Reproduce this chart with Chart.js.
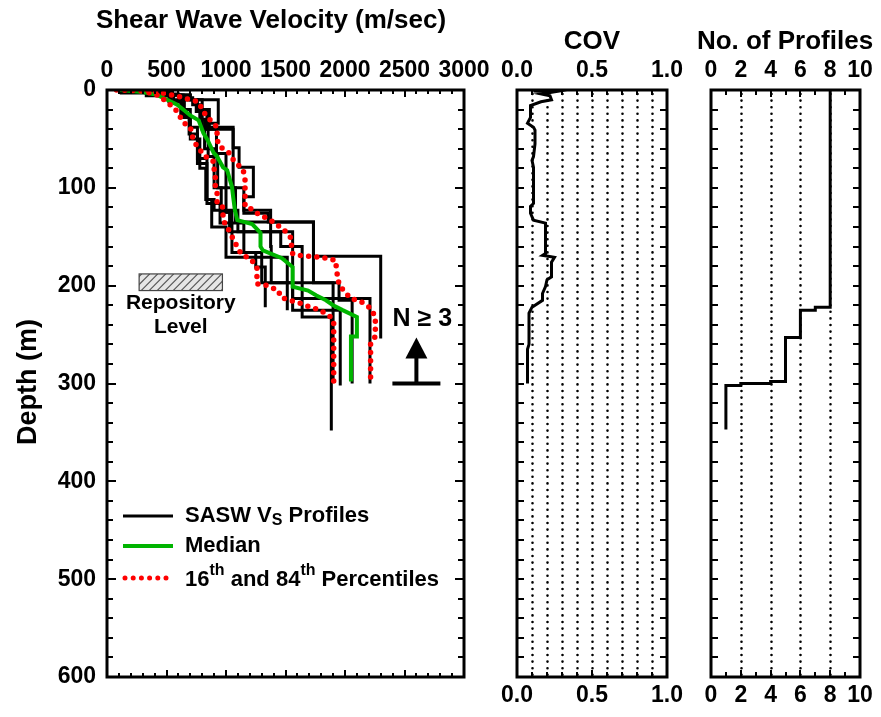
<!DOCTYPE html>
<html>
<head>
<meta charset="utf-8">
<script src="https://cdn.jsdelivr.net/npm/chart.js@4/dist/chart.umd.min.js"></script>
<style>
  html, body { margin: 0; padding: 0; background: #fff; }
  #wrap { position: relative; width: 881px; height: 717px; }
  #wrap canvas { position: absolute; left: 0; top: 0; }
</style>
</head>
<body>
<div id="wrap">
  <canvas id="vsChart" width="881" height="717"></canvas>
  <canvas id="covChart" width="881" height="717"></canvas>
  <canvas id="cntChart" width="881" height="717"></canvas>
</div>
<script>
// ---- SASW shear-wave velocity profiles: layer top depth (m), layer Vs (m/s), bottom depth (m)
const prof1Top = [0, 2, 5, 10, 20, 38, 70, 112, 123, 145, 160, 232];
const prof1Vs  = [150, 380, 560, 650, 700, 760, 840, 900, 1100, 1460, 1640, 1885];
const prof1End = 348;

const prof2Top = [0, 2, 4, 8, 15, 30, 60, 100, 125, 145, 225];
const prof2Vs  = [200, 420, 600, 720, 780, 820, 900, 960, 1030, 1560, 1960];
const prof2End = 302;

const prof3Top = [0, 2, 5, 10, 34, 40, 61, 100, 126, 135, 170];
const prof3Vs  = [250, 500, 700, 935, 840, 1060, 1060, 1150, 1355, 1735, 2300];
const prof3End = 254;

const prof4Top = [0, 2, 5, 10, 20, 38, 59, 79, 109, 123, 160, 197, 213];
const prof4Vs  = [180, 400, 620, 760, 840, 1060, 1110, 1230, 1150, 1375, 1380, 1560, 2210];
const prof4End = 300;

const prof5Top = [0, 3, 6, 12, 25, 45, 75, 116, 136, 166, 197];
const prof5Vs  = [120, 330, 520, 620, 690, 760, 840, 950, 1150, 1300, 1900];
const prof5End = 298;

const prof6Top = [0, 2, 5, 10, 20, 40, 65, 100, 135, 197, 215];
const prof6Vs  = [300, 550, 700, 800, 860, 920, 1000, 1080, 1735, 1950, 2060];
const prof6End = 300;

const prof7Top = [0, 2, 5, 12, 28, 50, 80, 112, 140, 171];
const prof7Vs  = [160, 360, 540, 640, 700, 780, 830, 880, 1000, 1515];
const prof7End = 225;

const prof8Top = [0, 2, 5, 10, 22, 40, 68, 100, 125, 166, 181];
const prof8Vs  = [220, 450, 640, 750, 800, 850, 930, 1000, 1050, 1250, 1330];
const prof8End = 222;

// ---- Statistics of the profiles
const medianDepth = [0, 2, 5, 10, 15, 20, 26, 31, 44, 51, 64, 68, 79, 82, 99, 109, 123, 133, 137, 146, 160, 164, 172, 181, 201, 205, 210, 215, 220, 225, 232, 252, 252, 298];
const medianVs    = [110, 300, 420, 505, 590, 640, 700, 770, 810, 845, 895, 925, 975, 1010, 1050, 1060, 1075, 1095, 1220, 1290, 1290, 1310, 1470, 1560, 1560, 1690, 1760, 1840, 1900, 1980, 2100, 2100, 2050, 2050];

const p16Depth = [0, 1, 5, 12, 22, 33, 38, 51, 58, 68, 72, 89, 99, 105, 116, 120, 133, 140, 157, 167, 174, 181, 198, 200, 205, 212, 215, 218, 222, 225, 232, 238, 298];
const p16Vs    = [80, 300, 420, 505, 590, 640, 700, 725, 760, 825, 890, 910, 910, 925, 925, 975, 975, 1010, 1080, 1125, 1215, 1260, 1260, 1350, 1440, 1460, 1540, 1625, 1710, 1790, 1880, 1905, 1905];

const p84Depth = [0, 4, 7, 10, 12, 26, 38, 51, 58, 65, 71, 82, 92, 119, 122, 126, 135, 146, 150, 167, 169, 171, 174, 194, 201, 205, 213, 216, 223, 232, 252, 259, 298];
const p84Vs    = [340, 505, 615, 700, 766, 830, 925, 925, 950, 1035, 1060, 1145, 1160, 1160, 1220, 1260, 1400, 1515, 1540, 1560, 1600, 1800, 1920, 1940, 1960, 1990, 2045, 2130, 2215, 2255, 2255, 2215, 2215];

// ---- Coefficient of variation with depth
const covDepth = [0, 1, 2, 4, 6, 10, 12, 16, 28, 34, 38, 41, 55, 68, 72, 79, 116, 119, 126, 133, 136, 167, 169, 171, 176, 191, 194, 201, 208, 215, 222, 228, 260, 265, 300];
const covValue = [0.18, 0.11, 0.24, 0.16, 0.22, 0.23, 0.16, 0.09, 0.09, 0.07, 0.11, 0.12, 0.12, 0.11, 0.10, 0.11, 0.11, 0.09, 0.09, 0.11, 0.19, 0.19, 0.17, 0.25, 0.23, 0.23, 0.20, 0.19, 0.17, 0.17, 0.10, 0.08, 0.08, 0.07, 0.07];

// ---- Number of profiles available at each depth (step changes)
const countTop = [0, 222, 225, 253, 298, 300, 302];
const countN   = [8, 7, 6, 5, 4, 2, 1];
const countEnd = 347;

// ---- Axis ticks
const vsTicks    = [0, 500, 1000, 1500, 2000, 2500, 3000];
const depthTicks = [0, 100, 200, 300, 400, 500, 600];
const covTicks   = [0, 0.5, 1.0];
const countTicks = [0, 2, 4, 6, 8, 10];

const FONT = '"Liberation Sans", Arial, Helvetica, sans-serif';
Chart.defaults.font.family = FONT;
Chart.defaults.font.weight = 'bold';
Chart.defaults.color = '#000';

// Turn a layered model into a staircase of points
function stairs(tops, values, end) {
  const pts = [];
  for (let i = 0; i < tops.length; i++) {
    const bot = i + 1 < tops.length ? tops[i + 1] : end;
    pts.push({ x: values[i], y: tops[i] });
    pts.push({ x: values[i], y: bot });
  }
  return pts;
}
function pairs(depths, values) {
  return depths.map((d, i) => ({ x: values[i], y: d }));
}

// Axis boxes with fixed sizes so every plot area lands on the same rows
function fixedSize(size) {
  return scale => { if (scale.isHorizontal()) scale.height = size; else scale.width = size; };
}

function line(ctx, x1, y1, x2, y2) {
  ctx.beginPath(); ctx.moveTo(x1, y1); ctx.lineTo(x2, y2); ctx.stroke();
}

// Frame, inward tick marks on all four sides, and dotted guide lines
function framePlugin(cfg) {
  return {
    id: 'frame',
    beforeDatasetsDraw(chart) {
      if (!cfg.grid) return;
      const { ctx, chartArea: a, scales } = chart;
      ctx.save();
      ctx.strokeStyle = '#000';
      ctx.lineWidth = 2.6;
      ctx.lineCap = 'round';
      ctx.setLineDash([0, 6.6]);
      cfg.grid.forEach(v => {
        const px = Math.round(scales.x.getPixelForValue(v)) + 0.5;
        line(ctx, px, a.top + 4, px, a.bottom);
      });
      ctx.restore();
    },
    afterDraw(chart) {
      const { ctx, chartArea: a, scales } = chart;
      const xs = scales.x, ys = scales.y;
      ctx.save();
      ctx.strokeStyle = '#000';
      ctx.lineWidth = 2;
      const nx = Math.round((xs.max - xs.min) / cfg.xMinor);
      for (let i = 0; i <= nx; i++) {
        const v = xs.min + i * cfg.xMinor;
        const px = Math.round(xs.getPixelForValue(v));
        const major = (i % cfg.xMajorEvery) === 0;
        const len = major ? cfg.xMajorLen : cfg.xMinorLen;
        line(ctx, px, a.top, px, a.top + len);
        line(ctx, px, a.bottom, px, a.bottom - len);
      }
      const ny = Math.round((ys.max - ys.min) / cfg.yMinor);
      for (let i = 0; i <= ny; i++) {
        const v = ys.min + i * cfg.yMinor;
        const py = Math.round(ys.getPixelForValue(v));
        const major = (i % cfg.yMajorEvery) === 0;
        const len = major ? cfg.yMajorLen : cfg.yMinorLen;
        line(ctx, a.left, py, a.left + len, py);
        line(ctx, a.right, py, a.right - len, py);
      }
      ctx.lineWidth = 3;
      ctx.strokeRect(a.left, a.top, a.right - a.left, a.bottom - a.top);
      ctx.restore();
      if (cfg.extra) cfg.extra(chart);
    }
  };
}

function textAt(ctx, str, x, y, size, align) {
  ctx.font = 'bold ' + size + 'px ' + FONT;
  ctx.textAlign = align || 'left';
  ctx.textBaseline = 'middle';
  ctx.fillText(str, x, y);
  return ctx.measureText(str).width;
}

// Titles, legend and notes for the velocity panel
function vsExtras(chart) {
  const { ctx, chartArea: a, scales } = chart;
  const xs = scales.x, ys = scales.y;
  ctx.save();
  ctx.fillStyle = '#000';

  textAt(ctx, 'Shear Wave Velocity (m/sec)', 271, 21, 26, 'center');
  ctx.save();
  ctx.translate(29, 382);
  ctx.rotate(-Math.PI / 2);
  textAt(ctx, 'Depth (m)', 0, 0, 27, 'center');
  ctx.restore();

  // repository horizon
  const rx1 = xs.getPixelForValue(270), rx2 = xs.getPixelForValue(970);
  const ry1 = ys.getPixelForValue(188), ry2 = ys.getPixelForValue(205);
  ctx.save();
  ctx.fillStyle = '#e6e6e6';
  ctx.fillRect(rx1, ry1, rx2 - rx1, ry2 - ry1);
  ctx.beginPath(); ctx.rect(rx1, ry1, rx2 - rx1, ry2 - ry1); ctx.clip();
  ctx.strokeStyle = '#555'; ctx.lineWidth = 1.2;
  for (let x = rx1 - 30; x < rx2 + 30; x += 8) line(ctx, x, ry2, x + (ry2 - ry1), ry1);
  ctx.restore();
  ctx.strokeStyle = '#444'; ctx.lineWidth = 1.2;
  ctx.strokeRect(rx1, ry1, rx2 - rx1, ry2 - ry1);
  const rc = (rx1 + rx2) / 2;
  textAt(ctx, 'Repository', rc, 303, 21, 'center');
  textAt(ctx, 'Level', rc, 327, 21, 'center');

  // N >= 3 marker at 300 m
  const ax = xs.getPixelForValue(2600), ay = ys.getPixelForValue(300);
  textAt(ctx, 'N \u2265 3', ax + 6, 319, 25, 'center');
  ctx.fillStyle = '#000';
  ctx.fillRect(ax - 24, ay - 2, 48, 4);
  ctx.fillRect(ax - 2, ay - 27, 4, 27);
  ctx.beginPath();
  ctx.moveTo(ax, ay - 46); ctx.lineTo(ax - 11, ay - 25); ctx.lineTo(ax + 11, ay - 25); ctx.closePath(); ctx.fill();

  // legend
  const lx1 = a.left + 16, lx2 = a.left + 66, tx = a.left + 78;
  ctx.lineCap = 'butt';
  ctx.strokeStyle = '#000'; ctx.lineWidth = 3;
  line(ctx, lx1, 516, lx2, 516);
  ctx.strokeStyle = '#00b400'; ctx.lineWidth = 4;
  line(ctx, lx1, 546, lx2, 546);
  ctx.strokeStyle = '#ff0000'; ctx.lineWidth = 5; ctx.lineCap = 'round';
  ctx.setLineDash([0, 8.2]);
  line(ctx, lx1 + 2, 578, lx2, 578);
  ctx.setLineDash([]);

  ctx.fillStyle = '#000';
  let x = tx;
  x += textAt(ctx, 'SASW V', x, 516, 22);
  x += textAt(ctx, 'S', x, 521, 16);
  textAt(ctx, ' Profiles', x, 516, 22);
  textAt(ctx, 'Median', tx, 546, 22);
  x = tx;
  x += textAt(ctx, '16', x, 580, 22);
  x += textAt(ctx, 'th', x, 571, 16);
  x += textAt(ctx, ' and 84', x, 580, 22);
  x += textAt(ctx, 'th', x, 571, 16);
  textAt(ctx, ' Percentiles', x, 580, 22);
  ctx.restore();
}

const tickFont = { size: 23, weight: 'bold', family: FONT };

// Plot area box: l, t, r, b in page pixels
function makeChart(id, box, scales, datasets, frameCfg) {
  return new Chart(document.getElementById(id), {
    type: 'scatter',
    data: { datasets },
    options: {
      responsive: false,
      animation: false,
      events: [],
      layout: { padding: box.pad, autoPadding: false },
      plugins: { legend: { display: false }, title: { display: false }, tooltip: { enabled: false } },
      scales
    },
    plugins: [framePlugin(frameCfg)]
  });
}

function xAxis(position, size, min, max, ticks, fmt, pad) {
  return {
    type: 'linear', position, min, max,
    afterFit: fixedSize(size),
    afterBuildTicks: s => { s.ticks = ticks.map(v => ({ value: v })); },
    grid: { display: false, drawTicks: false }, border: { display: false },
    ticks: { autoSkip: false, maxRotation: 0, padding: pad, font: tickFont, color: '#000', callback: fmt }
  };
}
function yDepth(showLabels, size) {
  return {
    type: 'linear', position: 'left', min: 0, max: 600, reverse: true,
    display: showLabels,
    afterFit: fixedSize(size),
    afterBuildTicks: s => { s.ticks = depthTicks.map(v => ({ value: v })); },
    grid: { display: false, drawTicks: false }, border: { display: false },
    ticks: { autoSkip: false, padding: 11, font: tickFont, color: '#000', callback: v => String(v) }
  };
}

const profileStyle = { showLine: true, pointRadius: 0, borderColor: '#000', borderWidth: 3, borderJoinStyle: 'miter', fill: false, order: 3 };
const profiles = [
  [prof1Top, prof1Vs, prof1End], [prof2Top, prof2Vs, prof2End],
  [prof3Top, prof3Vs, prof3End], [prof4Top, prof4Vs, prof4End],
  [prof5Top, prof5Vs, prof5End], [prof6Top, prof6Vs, prof6End],
  [prof7Top, prof7Vs, prof7End], [prof8Top, prof8Vs, prof8End]
];

const dotted = { showLine: true, pointRadius: 0, borderColor: '#ff0000', borderWidth: 5.5, borderDash: [0, 8.2], borderCapStyle: 'round', borderJoinStyle: 'round', order: 1 };
const vsDatasets = [
  Object.assign({ label: '16th Percentile', data: pairs(p16Depth, p16Vs) }, dotted),
  Object.assign({ label: '84th Percentile', data: pairs(p84Depth, p84Vs) }, dotted),
  { label: 'Median', data: pairs(medianDepth, medianVs), showLine: true, pointRadius: 0, borderColor: '#00b400', borderWidth: 4, order: 2 }
].concat(profiles.map((p, i) => Object.assign({ label: 'SASW Profile ' + (i + 1), data: stairs(p[0], p[1], p[2]) }, profileStyle)));

// Velocity panel: plot area 107..464 x 90..677
makeChart('vsChart', { pad: { left: 0, top: 0, right: 881 - 464, bottom: 717 - 677 } },
  { x: xAxis('top', 90, 0, 3000, vsTicks, v => String(v), 6), y: yDepth(true, 107) },
  vsDatasets,
  { xMinor: 100, xMajorEvery: 5, xMinorLen: 4, xMajorLen: 7, yMinor: 20, yMajorEvery: 5, yMinorLen: 6, yMajorLen: 9, extra: vsExtras });

// COV panel: plot area 517..667 x 90..677
makeChart('covChart', { pad: { left: 517, top: 0, right: 881 - 667, bottom: 0 } },
  { x: xAxis('top', 90, 0, 1, covTicks, v => v.toFixed(1), 6), x2: xAxis('bottom', 40, 0, 1, covTicks, v => v.toFixed(1), 5), y: yDepth(false, 0) },
  [{ label: 'COV', data: pairs(covDepth, covValue), showLine: true, pointRadius: 0, borderColor: '#000', borderWidth: 3, borderJoinStyle: 'miter' }],
  { xMinor: 0.1, xMajorEvery: 5, xMinorLen: 5, xMajorLen: 7, yMinor: 20, yMajorEvery: 5, yMinorLen: 7, yMajorLen: 7,
    grid: [0.1, 0.2, 0.3, 0.4, 0.5, 0.6, 0.7, 0.8, 0.9],
    extra: chart => { const c = chart.ctx; c.save(); c.fillStyle = '#000'; textAt(c, 'COV', 592, 42, 26, 'center'); c.restore(); } });

// Profile-count panel: plot area 711..860 x 90..677
makeChart('cntChart', { pad: { left: 711, top: 0, right: 881 - 860, bottom: 0 } },
  { x: xAxis('top', 90, 0, 10, countTicks, v => String(v), 6), x2: xAxis('bottom', 40, 0, 10, countTicks, v => String(v), 5), y: yDepth(false, 0) },
  [{ label: 'No. of Profiles', data: stairs(countTop, countN, countEnd), showLine: true, pointRadius: 0, borderColor: '#000', borderWidth: 3, borderJoinStyle: 'miter' }],
  { xMinor: 1, xMajorEvery: 2, xMinorLen: 5, xMajorLen: 7, yMinor: 20, yMajorEvery: 5, yMinorLen: 7, yMajorLen: 7,
    grid: [2, 4, 6, 8],
    extra: chart => { const c = chart.ctx; c.save(); c.fillStyle = '#000'; textAt(c, 'No. of Profiles', 785, 42, 26, 'center'); c.restore(); } });
</script>
</body>
</html>
